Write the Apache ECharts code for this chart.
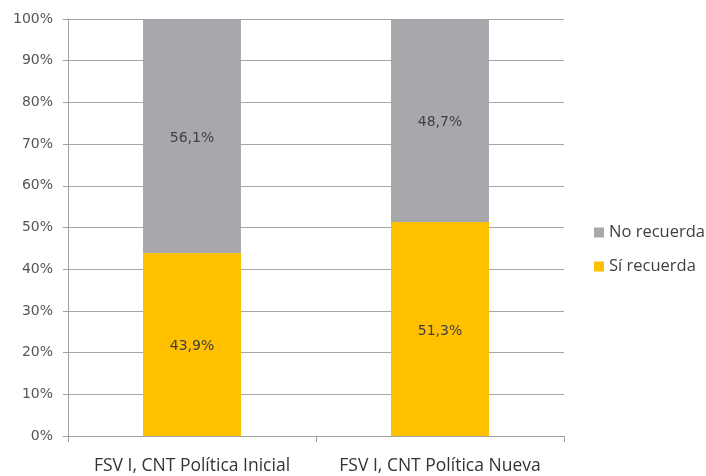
<!DOCTYPE html>
<html>
<head>
<meta charset="utf-8">
<script src="https://cdn.jsdelivr.net/npm/echarts@6/dist/echarts.min.js"></script>
<style>html,body{margin:0;padding:0;background:#fff}#c{width:706px;height:476px}</style>
</head>
<body>
<div id="c"></div>
<script>
const categories = ['FSV I, CNT Política Inicial', 'FSV I, CNT Política Nueva'];
const siRecuerda = [43.9, 51.3];
const noRecuerda = [56.1, 48.7];
const seriesNames = ['Sí recuerda', 'No recuerda'];

const chart = echarts.init(document.getElementById('c'));
const fmt = p => p.value.toFixed(1).replace('.', ',') + '%';
chart.setOption({
  animation: false,
  textStyle: { fontFamily: 'Open Sans, sans-serif' },
  grid: { left: 68, right: 142, top: 19, bottom: 40, containLabel: false },
  legend: {
    orient: 'vertical',
    left: 589, top: 219,
    data: ['No recuerda', 'Sí recuerda'],
    itemWidth: 10, itemHeight: 10, itemGap: 17,
    icon: 'rect',
    textStyle: { fontSize: 16.5, color: '#404040', fontFamily: 'Open Sans, sans-serif' }
  },
  xAxis: {
    type: 'category',
    data: categories,
    axisLine: { lineStyle: { color: '#a0a0a0', width: 1 } },
    axisTick: { show: true, length: 6, lineStyle: { color: '#a0a0a0' } },
    axisLabel: { interval: 0, fontSize: 17.5, color: '#333', margin: 21 }
  },
  yAxis: {
    type: 'value', min: 0, max: 100, interval: 10,
    axisLine: { show: true, lineStyle: { color: '#a0a0a0' } },
    axisTick: { show: true, length: 5, lineStyle: { color: '#a0a0a0' } },
    splitLine: { lineStyle: { color: '#a8a8a8' } },
    axisLabel: { formatter: '{value}%', fontSize: 14, color: '#555', margin: 15, fontFamily: 'DejaVu Sans' }
  },
  series: [
    {
      name: seriesNames[0], type: 'bar', stack: 's', data: siRecuerda,
      barWidth: '39.5%',
      itemStyle: { color: '#ffc000' },
      label: { show: true, position: 'inside', offset: [0, 2], formatter: fmt, fontSize: 14, color: '#404040', fontFamily: 'DejaVu Sans' }
    },
    {
      name: seriesNames[1], type: 'bar', stack: 's', data: noRecuerda,
      barWidth: '39.5%',
      itemStyle: { color: '#a6a8ab' },
      label: { show: true, position: 'inside', offset: [0, 2], formatter: fmt, fontSize: 14, color: '#404040', fontFamily: 'DejaVu Sans' }
    }
  ]
});
</script>
</body>
</html>
